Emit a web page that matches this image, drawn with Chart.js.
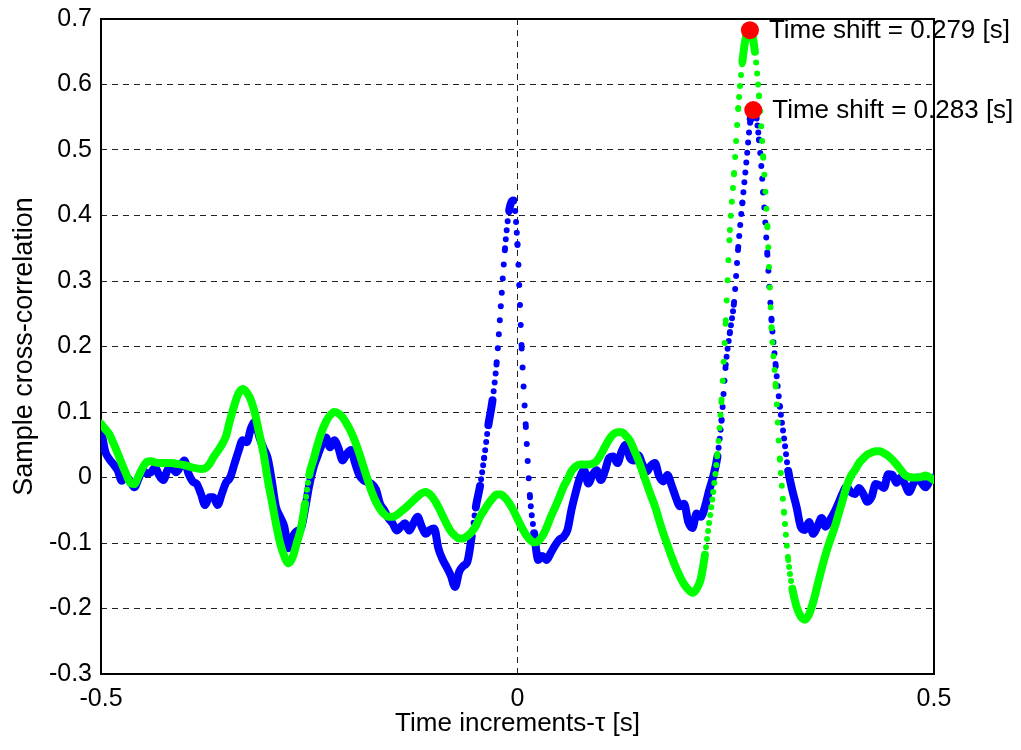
<!DOCTYPE html>
<html>
<head>
<meta charset="utf-8">
<title>Sample cross-correlation</title>
<script src="https://cdn.jsdelivr.net/npm/chart.js@4.4.0/dist/chart.umd.min.js"></script>
<style>
  html, body { margin: 0; padding: 0; background: #fff; }
  #wrap { width: 1021px; height: 750px; }
</style>
</head>
<body>
<div id="wrap"><canvas id="xcorr" width="1021" height="750"></canvas></div>
<script>
// lag grid: -0.5 .. 0.5 s every 0.005 s
const lagStart = -0.5;
const lagStep = 0.005;

// blue series
const corrBlue = [
  0.074, 0.040, 0.028, 0.020, 0.011, -0.005, 0.002, -0.006, -0.015, -0.002,
  0.011, 0.006, 0.008, 0.015, 0.003, -0.004, 0.012, 0.014, 0.008, 0.016,
  0.026, 0.006, -0.006, -0.010, -0.025, -0.042, -0.030, -0.030, -0.042, -0.025,
  -0.008, 0.000, 0.020, 0.040, 0.057, 0.054, 0.075, 0.085, 0.062, 0.045,
  0.030, -0.005, -0.045, -0.060, -0.075, -0.108, -0.090, -0.082, -0.078, -0.048,
  -0.012, 0.015, 0.033, 0.050, 0.061, 0.046, 0.057, 0.045, 0.026, 0.036,
  0.042, 0.022, 0.004, -0.004, -0.007, -0.010, -0.018, -0.040, -0.050, -0.062,
  -0.070, -0.081, -0.075, -0.070, -0.081, -0.070, -0.060, -0.075, -0.086, -0.080,
  -0.078, -0.108, -0.125, -0.137, -0.150, -0.167, -0.144, -0.135, -0.128, -0.090,
  -0.045, -0.013, 0.030, 0.080, 0.118, 0.176, 0.262, 0.350, 0.408, 0.423,
  0.355, 0.197, 0.077, -0.030, -0.085, -0.126, -0.120, -0.126, -0.115, -0.104,
  -0.095, -0.091, -0.080, -0.048, -0.022, 0.000, 0.011, -0.009, 0.004, 0.011,
  -0.004, 0.010, 0.030, 0.032, 0.022, 0.040, 0.050, 0.030, 0.026, 0.034,
  0.020, 0.009, 0.018, 0.022, 0.002, -0.006, 0.004, -0.012, -0.030, -0.044,
  -0.040, -0.068, -0.077, -0.055, -0.060, -0.045, -0.020, 0.002, 0.032, 0.088,
  0.172, 0.222, 0.268, 0.352, 0.420, 0.485, 0.548, 0.558, 0.515, 0.435,
  0.340, 0.240, 0.170, 0.108, 0.060, 0.010, -0.020, -0.045, -0.075, -0.080,
  -0.068, -0.086, -0.075, -0.062, -0.075, -0.065, -0.054, -0.040, -0.025, -0.014,
  -0.022, -0.025, -0.016, -0.025, -0.037, -0.030, -0.010, -0.012, -0.016, 0.005,
  0.004, -0.008, 0.000, -0.010, -0.022, -0.010, 0.000, -0.008, -0.015, -0.005,
  0.000
];

// green series
const corrGreen = [
  0.082, 0.074, 0.066, 0.052, 0.037, 0.021, 0.006, -0.008, -0.010, 0.002,
  0.015, 0.024, 0.025, 0.023, 0.022, 0.022, 0.022, 0.022, 0.021, 0.020,
  0.019, 0.017, 0.015, 0.014, 0.013, 0.014, 0.020, 0.031, 0.040, 0.050,
  0.063, 0.088, 0.110, 0.128, 0.135, 0.130, 0.118, 0.097, 0.067, 0.037,
  -0.002, -0.036, -0.070, -0.100, -0.120, -0.131, -0.122, -0.100, -0.078, -0.040,
  0.004, 0.027, 0.050, 0.070, 0.085, 0.095, 0.100, 0.098, 0.092, 0.082,
  0.070, 0.055, 0.037, 0.017, -0.003, -0.022, -0.037, -0.048, -0.056, -0.060,
  -0.060, -0.057, -0.052, -0.047, -0.041, -0.035, -0.029, -0.024, -0.022, -0.026,
  -0.034, -0.045, -0.058, -0.071, -0.082, -0.089, -0.093, -0.093, -0.089, -0.083,
  -0.074, -0.060, -0.050, -0.040, -0.032, -0.026, -0.026, -0.031, -0.039, -0.050,
  -0.063, -0.076, -0.087, -0.095, -0.099, -0.097, -0.089, -0.076, -0.060, -0.046,
  -0.031, -0.015, -0.003, 0.010, 0.017, 0.020, 0.020, 0.020, 0.021, 0.025,
  0.035, 0.047, 0.058, 0.066, 0.069, 0.069, 0.064, 0.056, 0.042, 0.027,
  0.009, -0.009, -0.027, -0.044, -0.065, -0.085, -0.103, -0.121, -0.137, -0.151,
  -0.163, -0.171, -0.176, -0.170, -0.155, -0.118, -0.070, -0.022, 0.036, 0.119,
  0.240, 0.378, 0.465, 0.564, 0.635, 0.676, 0.682, 0.650, 0.582, 0.488,
  0.382, 0.228, 0.139, 0.027, -0.054, -0.126, -0.170, -0.197, -0.212, -0.217,
  -0.209, -0.190, -0.165, -0.140, -0.117, -0.097, -0.079, -0.058, -0.036, -0.014,
  0.002, 0.011, 0.022, 0.029, 0.035, 0.038, 0.040, 0.040, 0.037, 0.033,
  0.027, 0.020, 0.012, 0.004, 0.001, 0.000, 0.000, 0.001, 0.003, 0.000,
  -0.004
];

// peaks marked in red
const peakLags = [0.279, 0.283];
const peakValues = [0.683, 0.561];

const lags = corrGreen.map((_, i) => +(lagStart + i * lagStep).toFixed(3));
const toPoints = (vals) => vals.map((v, i) => ({ x: lags[i], y: v }));

Chart.defaults.font.family = "'Liberation Sans', Arial, Helvetica, sans-serif";
Chart.defaults.font.size = 25;
Chart.defaults.color = '#000';

// steep parts of the curves show up as separate dots in the original
function dotGap(ctx) {
  const dx = Math.abs(ctx.p1.x - ctx.p0.x) || 1;
  const dy = Math.abs(ctx.p1.y - ctx.p0.y);
  return Math.min(Math.round(dy / dx), 20);
}
const segStyle = {
  borderDash: (ctx) => (dotGap(ctx) >= 7 ? [0, dotGap(ctx)] : undefined),
  borderWidth: (ctx) => (dotGap(ctx) >= 7 ? 6 : undefined)
};

const framePlugin = {
  id: 'frame',
  beforeDatasetsDraw(chart) {
    const { ctx, chartArea: a } = chart;
    ctx.save();
    ctx.strokeStyle = '#000';
    ctx.lineWidth = 2;
    ctx.strokeRect(a.left, a.top, a.right - a.left, a.bottom - a.top);
    ctx.restore();
  },
  afterDatasetsDraw(chart) {
    const { ctx } = chart;
    const meta = chart.getDatasetMeta(2);
    ctx.save();
    ctx.font = "26px 'Liberation Sans', Arial, sans-serif";
    ctx.fillStyle = '#000';
    ctx.textBaseline = 'middle';
    meta.data.forEach((pt, i) => {
      ctx.fillText('Time shift = ' + peakLags[i].toFixed(3) + ' [s]', pt.x + 19, pt.y + 1);
    });
    ctx.restore();
  }
};

new Chart(document.getElementById('xcorr'), {
  type: 'line',
  data: {
    datasets: [
      {
        label: 'blue',
        data: toPoints(corrBlue),
        borderColor: '#0000ff',
        borderWidth: 8,
        borderCapStyle: 'round',
        borderJoinStyle: 'round',
        cubicInterpolationMode: 'monotone',
        pointRadius: 0,
        order: 2,
        segment: segStyle
      },
      {
        label: 'green',
        data: toPoints(corrGreen),
        borderColor: '#00ff00',
        borderWidth: 8,
        borderCapStyle: 'round',
        borderJoinStyle: 'round',
        cubicInterpolationMode: 'monotone',
        pointRadius: 0,
        order: 1,
        segment: segStyle
      },
      {
        label: 'peaks',
        data: peakLags.map((x, i) => ({ x: x, y: peakValues[i] })),
        showLine: false,
        pointRadius: 9,
        pointBackgroundColor: '#ff0000',
        pointBorderWidth: 0,
        clip: false,
        order: 0
      }
    ]
  },
  options: {
    responsive: false,
    animation: false,
    events: [],
    layout: { padding: { left: 0, top: 19, right: 87, bottom: 0 } },
    plugins: { legend: { display: false }, tooltip: { enabled: false } },
    scales: {
      x: {
        type: 'linear',
        min: -0.5,
        max: 0.5,
        afterFit: (s) => { s.height = 76; },
        ticks: { stepSize: 0.5, padding: 10, maxRotation: 0 },
        grid: { color: '#222', drawTicks: false },
        border: { display: false, dash: [6, 5] },
        title: { display: true, text: 'Time increments-τ [s]', font: { size: 26 }, padding: { top: 0, bottom: 11 } }
      },
      y: {
        min: -0.3,
        max: 0.7,
        afterFit: (s) => { s.width = 101; s.paddingTop = 0; s.paddingBottom = 0; },
        ticks: { stepSize: 0.1, padding: 9 },
        grid: { color: '#222', drawTicks: false },
        border: { display: false, dash: [6, 5] },
        title: { display: true, text: 'Sample cross-correlation', font: { size: 27 }, padding: { top: 8, bottom: 0 } }
      }
    }
  },
  plugins: [framePlugin]
});
</script>
</body>
</html>
